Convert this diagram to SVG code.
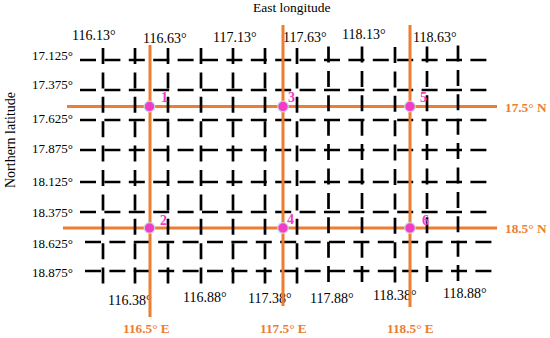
<svg xmlns="http://www.w3.org/2000/svg" width="550" height="338" viewBox="0 0 550 338">
<style>
text{font-family:"Liberation Serif","Times New Roman",serif}
.lab{font-size:14px;fill:#000}
.lat{font-size:13px;text-anchor:end;fill:#000}
.ax{font-size:13.5px;fill:#000}
.or{font-size:13.3px;font-weight:bold;fill:#ED7D31}
.pn{font-size:14px;font-weight:bold;fill:#F23CC6}
.h{stroke:#000;stroke-width:2.7;stroke-dasharray:16 8.4;fill:none}
.v{stroke:#000;stroke-width:2.7;stroke-dasharray:16 8.4;fill:none}
.ol{stroke:#ED7D31;stroke-width:3;fill:none}
.dot{fill:#F23CC6;stroke:#C8D4E8;stroke-width:1.2}
</style>
<rect width="550" height="338" fill="#fff"/>
<g id="axis-titles">
<text class="ax" x="253" y="12">East longitude</text>
<text class="lab" transform="translate(15,140) rotate(-90)" text-anchor="middle">Northern latitude</text>
</g>
<g id="lat-labels">
<text class="lat" x="73" y="59.5">17.125°</text>
<text class="lat" x="73" y="89">17.375°</text>
<text class="lat" x="73" y="123">17.625°</text>
<text class="lat" x="73" y="153">17.875°</text>
<text class="lat" x="73" y="186">18.125°</text>
<text class="lat" x="73" y="217">18.375°</text>
<text class="lat" x="73" y="248">18.625°</text>
<text class="lat" x="73" y="277">18.875°</text>
</g>
<g id="lon-labels">
<text class="lab" x="72" y="40">116.13°</text>
<text class="lab" x="143" y="43">116.63°</text>
<text class="lab" x="213" y="41.5">117.13°</text>
<text class="lab" x="283" y="41.5">117.63°</text>
<text class="lab" x="342" y="38.5">118.13°</text>
<text class="lab" x="413" y="41.5">118.63°</text>
<text class="lab" x="108" y="305">116.38°</text>
<text class="lab" x="183" y="302">116.88°</text>
<text class="lab" x="248" y="303">117.38°</text>
<text class="lab" x="310" y="303">117.88°</text>
<text class="lab" x="373" y="300">118.38°</text>
<text class="lab" x="443" y="298">118.88°</text>
</g>
<g id="orange-h" class="ol">
<line x1="67" y1="106.5" x2="497" y2="106.5"/>
<line x1="63" y1="228" x2="497" y2="228"/>
</g>
<g id="grid">
<g id="rows" class="h">
<line x1="80" y1="60" x2="487" y2="60"/>
<line x1="80" y1="90" x2="487" y2="90"/>
<line x1="80" y1="120" x2="487" y2="120"/>
<line x1="80" y1="150" x2="487" y2="150"/>
<line x1="80" y1="182" x2="487" y2="182"/>
<line x1="80" y1="212" x2="487" y2="212"/>
<line x1="85" y1="242" x2="492" y2="242"/>
<line x1="85" y1="271" x2="492" y2="271"/>
</g>
<g id="cols" class="v">
<line x1="103" y1="48" x2="103" y2="284"/>
<line x1="135" y1="48" x2="135" y2="284"/>
<line x1="168" y1="48" x2="168" y2="284"/>
<line x1="201" y1="48" x2="201" y2="284"/>
<line x1="233" y1="48" x2="233" y2="284"/>
<line x1="265" y1="48" x2="265" y2="284"/>
<line x1="297" y1="48" x2="297" y2="284"/>
<line x1="328.5" y1="46.5" x2="328.5" y2="282.5"/>
<line x1="362" y1="46.5" x2="362" y2="282.5"/>
<line x1="395" y1="47" x2="395" y2="283"/>
<line x1="427" y1="46.5" x2="427" y2="282.5"/>
<line x1="458" y1="45.5" x2="458" y2="281.5"/>
</g>
</g>
<g id="orange-v" class="ol">
<line x1="150" y1="45" x2="150" y2="317"/>
<line x1="283" y1="25" x2="283" y2="306"/>
<line x1="410" y1="25" x2="410" y2="307"/>
</g>
<g id="orange-labels">
<text class="or" x="505" y="111.5">17.5° N</text>
<text class="or" x="505" y="232.5">18.5° N</text>
<text class="or" x="123" y="333">116.5° E</text>
<text class="or" x="260" y="333">117.5° E</text>
<text class="or" x="387" y="333">118.5° E</text>
</g>
<g id="p1"><circle class="dot" cx="149.5" cy="106.5" r="5.3"/><text class="pn" x="161" y="102">1</text></g>
<g id="p3"><circle class="dot" cx="283" cy="106.5" r="5.3"/><text class="pn" x="288" y="102">3</text></g>
<g id="p5"><circle class="dot" cx="410" cy="106.5" r="5.3"/><text class="pn" x="420" y="102">5</text></g>
<g id="p2"><circle class="dot" cx="149.5" cy="228" r="5.3"/><text class="pn" x="160" y="225">2</text></g>
<g id="p4"><circle class="dot" cx="283" cy="228" r="5.3"/><text class="pn" x="287" y="224">4</text></g>
<g id="p6"><circle class="dot" cx="410" cy="228" r="5.3"/><text class="pn" x="422" y="225">6</text></g>
</svg>
